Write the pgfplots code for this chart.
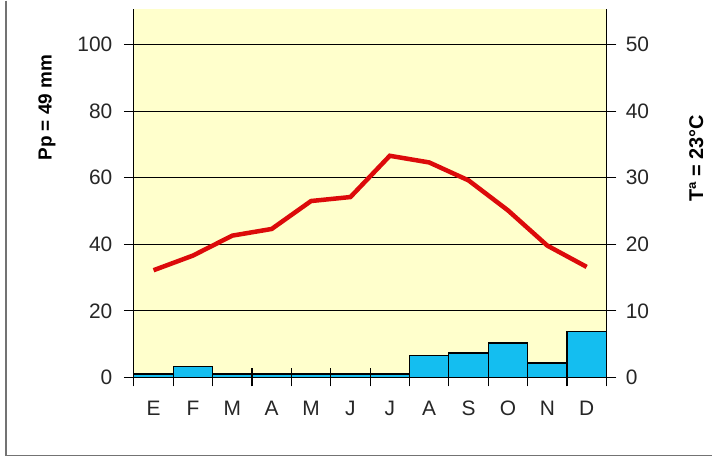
\documentclass[border=0pt]{standalone}
\usepackage{fontspec}
\setmainfont{Liberation Sans}
\usepackage{pgfplots}
\pgfplotsset{compat=1.18}
\definecolor{bgyellow}{RGB}{255,255,204}
\definecolor{barcyan}{RGB}{20,190,240}
\definecolor{linered}{RGB}{220,10,10}

\begin{document}
\begin{tikzpicture}
\pgfplotsset{
  common/.style={
    scale only axis, width=473bp, height=369bp,
    xmin=0, xmax=12,
    /pgf/number format/assume math mode=true,
    tick label style={font=\fontsize{21}{25}\selectfont, text=black!85},
    axis line style={black, line width=1.2bp},
    tick style={black, line width=1.2bp},
  }
}
% precipitation (mm), left axis
\begin{axis}[common,
  tick align=outside,
  major tick length=10bp,
  axis background/.style={fill=bgyellow},
  axis x line*=bottom, axis y line*=left,
  ymin=0, ymax=110.8,
  ytick={0,20,...,100},
  yticklabel style={xshift=-8bp},
  ymajorgrids, grid style={black, line width=1.2bp},
  xtick={0.5,1.5,...,11.5},
  xticklabels={E,F,M,A,M,J,J,A,S,O,N,D},
  xticklabel style={yshift=-10bp},
  major x tick style={draw=none},
  minor xtick={0,1,...,12},
  minor tick length=9bp,
  minor x tick style={black, line width=1.2bp},
]
\addplot[ybar interval, fill=barcyan, draw=black, line width=1.2bp] coordinates {
  (0,1) (1,3.2) (2,1) (3,1) (4,1) (5,1) (6,1)
  (7,6.5) (8,7.3) (9,10.3) (10,4.3) (11,13.7) (12,13.7)
};
\end{axis}
% temperature (C), right axis
\begin{axis}[common,
  tick align=outside,
  major tick length=10bp,
  axis x line=none, axis y line*=right,
  ymin=0, ymax=55.4,
  ytick={0,10,...,50},
  yticklabel style={xshift=6bp},
]
\addplot[linered, line width=4.5bp] coordinates {
  (0.5,16.1) (1.5,18.3) (2.5,21.3) (3.5,22.3) (4.5,26.5) (5.5,27.1)
  (6.5,33.3) (7.5,32.3) (8.5,29.6) (9.5,25.1) (10.5,19.8) (11.5,16.6)
};
\end{axis}
% inner half of the month separator ticks
\begin{axis}[common,
  tick align=inside,
  major tick length=9bp,
  axis y line=none, axis x line*=bottom,
  x axis line style={draw=none},
  ymin=0, ymax=1,
  xtick={0,1,...,12},
  xticklabels={},
]
\end{axis}
\node[rotate=90, font=\bfseries\fontsize{19}{23}\selectfont]
  at ([xshift=-87bp, yshift=270bp]current axis.south west) {Pp = 49 mm};
\node[rotate=90, font=\bfseries\fontsize{20}{24}\selectfont]
  at ([xshift=90bp, yshift=219bp]current axis.south east) {Tª = 23°C};
\draw[black!55, line width=1.5bp]
  ([xshift=-128bp, yshift=8bp]current axis.north west)
  -- ([xshift=-128bp, yshift=-78bp]current axis.south west)
  -- ([xshift=106bp, yshift=-78bp]current axis.south east);
\path[use as bounding box] ([xshift=-134bp, yshift=-80bp]current axis.south west)
  rectangle ([xshift=106bp, yshift=8bp]current axis.north east);
\end{tikzpicture}
\end{document}
